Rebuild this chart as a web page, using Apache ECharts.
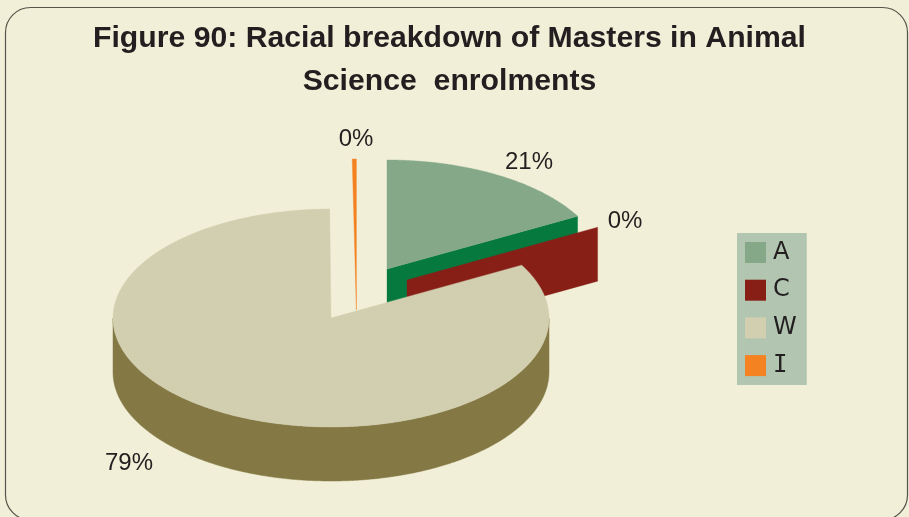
<!DOCTYPE html>
<html><head><meta charset="utf-8">
<style>html,body{margin:0;padding:0;background:#F1EFD7}#c{width:909px;height:517px}</style>
<script src="https://cdn.jsdelivr.net/npm/echarts@6/dist/echarts.min.js"></script>
</head><body><div id="c"></div>
<script>
var categories = ['A', 'C', 'W', 'I'];
var values = [20.9, 0, 78.9, 0.2];
var titleLines = ['Figure 90: Racial breakdown of Masters in Animal', 'Science  enrolments'];

var topColors = ['#84A888', '#871F17', '#D2CFB0', '#F58220'];
var wallColors = ['#06793E', '#871F17', '#847844', '#F58220'];
var centers = [[387, 269], [407, 280], [331, 318], [356.4, 310]];
var radii = [[218, 109], [218, 109], [218, 109], [700, 151]];
var hasEndFace = [true, true, false, false];
var labelAt = [[529, 162], [625, 221], [129, 463], [356, 139]];
var drawOrder = [0, 1, 3, 2];
var DEPTH = 54, TILT = 0.475;
var INK = '#231F20';

var total = values.reduce(function (a, b) { return a + b; }, 0);
function project(alpha) {
  return Math.atan2(TILT * Math.sin(alpha), Math.cos(alpha));
}
function rimPoint(idx, alpha) {
  var th = project(alpha), c = centers[idx], r = radii[idx];
  return [c[0] + r[0] * Math.sin(th), c[1] - r[1] * Math.cos(th)];
}
function down(p) { return [p[0], p[1] + DEPTH]; }

function renderSlice(idx) {
  return function (params, api) {
    var v = api.value(0);
    var before = 0;
    for (var i = 0; i < idx; i++) before += values[i];
    var a0 = before / total * 2 * Math.PI;
    var a1 = (before + v) / total * 2 * Math.PI;
    var c = centers[idx];
    var kids = [];
    var top = [c];
    var n = Math.max(2, Math.ceil((a1 - a0) / 0.01));
    for (var j = 0; j <= n; j++) top.push(rimPoint(idx, a0 + (a1 - a0) * j / n));

    // outer wall: the part of the rim that faces the viewer
    var wall = [], back = [];
    for (var k = 0; k <= n; k++) {
      var a = a0 + (a1 - a0) * k / n;
      if (Math.cos(project(a)) <= 0) { var p = rimPoint(idx, a); wall.push(p); back.unshift(down(p)); }
    }
    if (wall.length > 1) {
      kids.push({ type: 'polygon', shape: { points: wall.concat(back) },
        style: { fill: wallColors[idx], stroke: wallColors[idx], lineWidth: 0.5 } });
    }
    // radial end face at the slice's clockwise edge
    if (hasEndFace[idx]) {
      var rimEnd = rimPoint(idx, a1);
      kids.push({ type: 'polygon', shape: { points: [c, rimEnd, down(rimEnd), down(c)] },
        style: { fill: wallColors[idx], stroke: wallColors[idx], lineWidth: 0.3 } });
    }
    if (v > 0) {
      kids.push({ type: 'polygon', shape: { points: top },
        style: { fill: topColors[idx], stroke: topColors[idx], lineWidth: 0.4 } });
    }
    return { type: 'group', children: kids };
  };
}

function renderLabels(params, api) {
  var i = params.dataIndex;
  return { type: 'text', style: {
    text: Math.round(api.value(0)) + '%',
    x: labelAt[i][0], y: labelAt[i][1],
    fill: INK, font: '24px "Liberation Sans"', textAlign: 'center', textVerticalAlign: 'middle'
  } };
}

var series = drawOrder.map(function (idx, order) {
  return {
    type: 'custom', name: categories[idx], coordinateSystem: 'none', silent: true,
    animation: false, z: 2 + order,
    itemStyle: { color: topColors[idx] },
    data: [[values[idx]]],
    renderItem: renderSlice(idx)
  };
});
series.push({
  type: 'custom', coordinateSystem: 'none', silent: true, animation: false, z: 10,
  data: values.map(function (v) { return [v]; }),
  renderItem: renderLabels
});

var chart = echarts.init(document.getElementById('c'), null, { renderer: 'canvas' });
chart.setOption({
  backgroundColor: '#F1EFD7',
  animation: false,
  title: {
    text: titleLines.join('\n'), left: 444.5, top: 12, textAlign: 'center',
    textStyle: { fontFamily: '"Liberation Sans"', fontWeight: 'bold', fontSize: 30.2, lineHeight: 43, color: INK }
  },
  legend: {
    data: categories, orient: 'vertical', left: 737, top: 233,
    backgroundColor: '#B2C5B0', padding: [7.5, 10, 7.4, 8],
    itemWidth: 21, itemHeight: 21, itemGap: 13.7, icon: 'rect',
    selectedMode: false,
    formatter: function (name) { return name === 'I' ? '{serif|I}' : name; },
    textStyle: {
      fontFamily: '"DejaVu Sans"', fontSize: 24, lineHeight: 21, color: INK, padding: [0, 0, 0, 2],
      rich: { serif: { fontFamily: '"DejaVu Sans Mono"', fontSize: 24, lineHeight: 21, color: INK } }
    }
  },
  graphic: [{
    type: 'rect', z: 0, silent: true,
    shape: { x: 5.5, y: 7.5, width: 902, height: 512.5, r: 25 },
    style: { fill: 'transparent', stroke: '#55544A', lineWidth: 1.2 }
  }],
  series: series
});
</script></body></html>
